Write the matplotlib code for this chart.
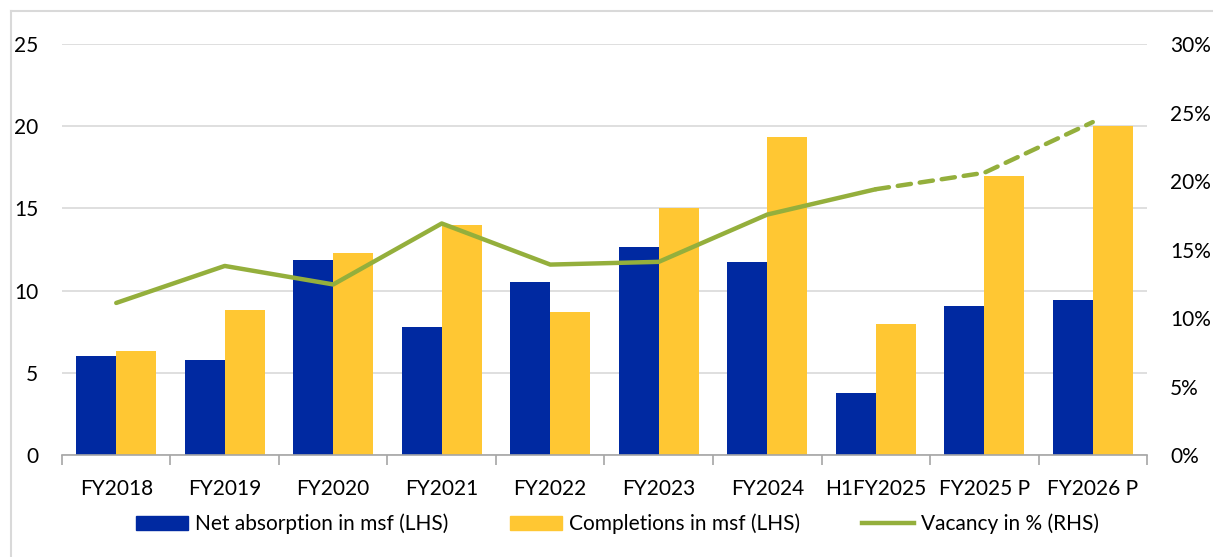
import numpy as np
import matplotlib.pyplot as plt
from matplotlib.lines import Line2D
from matplotlib.patches import Patch

plt.rcParams['font.family'] = ['Lato', 'DejaVu Sans']

categories = ['FY2018', 'FY2019', 'FY2020', 'FY2021', 'FY2022', 'FY2023',
              'FY2024', 'H1FY2025', 'FY2025 P', 'FY2026 P']
net_absorption = [6.05, 5.8, 11.85, 7.8, 10.5, 12.68, 11.77, 3.76, 9.04, 9.4]
completions = [6.3, 8.8, 12.3, 14.0, 8.72, 15.0, 19.36, 7.95, 17.0, 20.0]
vacancy = [11.1, 13.8, 12.45, 16.9, 13.9, 14.1, 17.55, 19.4, 20.6, 24.3]
last_actual = 7  # H1FY2025, projections after this are dashed

blue = '#0029A1'
yellow = '#FFC733'
green = '#94AF3C'
grid_c = '#D9D9D9'
fs = 15

fig = plt.figure(figsize=(12.13, 5.57), dpi=100)
ax = fig.add_axes([0.0511, 0.1831, 0.8945, 0.7379])
ax2 = ax.twinx()

x = np.arange(len(categories))
w = 0.368
ax.bar(x - w / 2, net_absorption, w, color=blue, zorder=2)
ax.bar(x + w / 2, completions, w, color=yellow, zorder=2)

vac = np.array(vacancy) / 100
ax2.plot(x[:last_actual + 1], vac[:last_actual + 1], color=green, lw=3.2,
         solid_capstyle='round')
ax2.plot(x[last_actual:], vac[last_actual:], color=green, lw=3.2,
         linestyle=(0, (3, 2)), dash_capstyle='round')

ax.set_xlim(-0.5, len(categories) - 0.5)
ax.set_ylim(0, 25)
ax.set_yticks(range(0, 26, 5))
ax2.set_ylim(0, 0.30)
ax2.set_yticks(np.arange(0, 0.31, 0.05))
ax2.set_yticklabels([f'{int(round(v * 100))}%' for v in np.arange(0, 0.31, 0.05)])

ax.grid(axis='y', color=grid_c, lw=1.2, zorder=0)
ax.set_axisbelow(True)
for a in (ax, ax2):
    for s in ['top', 'right', 'left', 'bottom']:
        a.spines[s].set_visible(False)
ax.spines['bottom'].set_visible(True)
ax.spines['bottom'].set_color('#A6A6A6')
ax.spines['bottom'].set_linewidth(1.2)

ax.set_xticks(x)
ax.set_xticklabels(categories)
ax.set_xticks(np.arange(-0.5, len(categories)), minor=True)
ax.tick_params(axis='x', which='major', length=0, labelsize=fs, pad=17)
ax.tick_params(axis='x', which='minor', length=7, width=1.2, color='#A6A6A6')
ax.tick_params(axis='y', length=0, labelsize=fs, pad=17)
ax2.tick_params(axis='y', length=0, labelsize=fs, pad=16.5)

handles = [Patch(color=blue), Patch(color=yellow),
           Line2D([0], [0], color=green, lw=3.2)]
labels = ['Net absorption in msf (LHS)', 'Completions in msf (LHS)',
          'Vacancy in % (RHS)']
fig.legend(handles, labels, loc='center', bbox_to_anchor=(0.509, 0.059),
           ncol=3, frameon=False, fontsize=fs, handlelength=2.5,
           handletextpad=0.3, columnspacing=3.0)

# light frame around the chart area
fig.add_artist(Line2D([11 / 1213, 1], [1 - 11 / 557] * 2, color=grid_c, lw=1.5))
fig.add_artist(Line2D([11 / 1213] * 2, [0, 1 - 11 / 557], color=grid_c, lw=1.5))

fig.savefig('out.png', dpi=100)
